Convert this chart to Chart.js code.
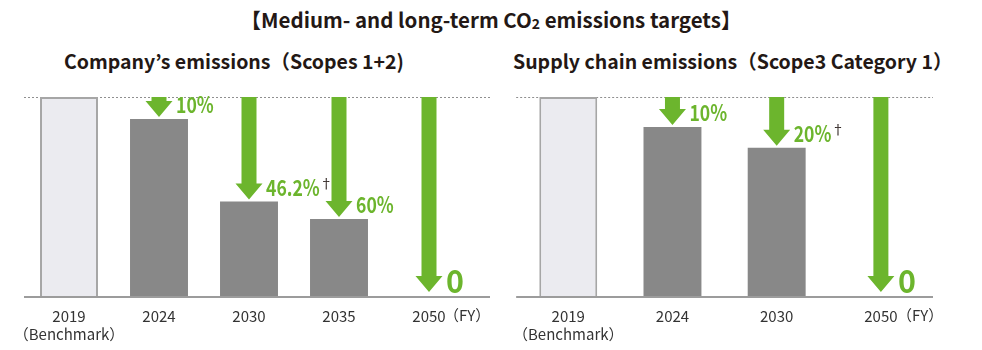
<!DOCTYPE html>
<html>
<head>
<meta charset="utf-8">
<script src="https://cdn.jsdelivr.net/npm/chart.js@4.4.1/dist/chart.umd.min.js"></script>
<style>
  body { margin: 0; background: #fff; font-family: "Noto Sans CJK JP", sans-serif; color: #231815; }
  #wrap { position: relative; width: 982px; height: 350px; overflow: hidden; }
  .title { position: absolute; white-space: nowrap; font-weight: 700; line-height: 1; }
  #mainTitle { left: 0; width: 982px; top: 9px; text-align: center; font-size: 20.5px; }
  #mainTitle sub { font-size: 14px; vertical-align: -1px; font-weight: 700; }
  #leftTitle { left: 64px; top: 51px; font-size: 19.5px; }
  #rightTitle { left: 513px; top: 51px; font-size: 19.5px; }
  .box { position: absolute; top: 80px; height: 270px; }
  #leftBox { left: 0; width: 500px; }
  #rightBox { left: 500px; width: 482px; }
</style>
</head>
<body>
<div id="wrap">
  <div id="mainTitle" class="title">【Medium- and long-term CO<sub>2</sub> emissions targets】</div>
  <div id="leftTitle" class="title">Company’s emissions（Scopes 1+2)</div>
  <div id="rightTitle" class="title">Supply chain emissions（Scope3 Category 1）</div>
  <div id="leftBox" class="box"><canvas id="leftChart"></canvas></div>
  <div id="rightBox" class="box"><canvas id="rightChart"></canvas></div>
</div>
<script>
// Company's emissions (Scopes 1+2), 2019 = 100
const leftYears = [['2019', '（Benchmark）'], '2024', '2030', '2035', '2050'];
const leftValues = [100, 89, 47.7, 39, 0];
const leftTargets = ['', '10%', '46.2%', '60%', '0'];
const leftDagger = [false, false, true, false, false];

// Supply chain emissions (Scope3 Category 1), 2019 = 100
const rightYears = [['2019', '（Benchmark）'], '2024', '2030', '2050'];
const rightValues = [100, 85, 74.6, 0];
const rightTargets = ['', '10%', '20%', '0'];
const rightDagger = [false, false, true, false];

const green = '#6cb52d';
const fontFamily = '"Noto Sans CJK JP", sans-serif';

const targetPlugin = {
    id: 'targets',
    beforeDatasetsDraw(chart, args, opts) {
        const ctx = chart.ctx;
        const area = chart.chartArea;
        const y = Math.round(chart.scales.y.getPixelForValue(100)) + 0.5;
        // dotted benchmark line
        ctx.save();
        ctx.strokeStyle = '#8f8f8f';
        ctx.lineWidth = 1;
        ctx.setLineDash([2, 2]);
        ctx.beginPath();
        ctx.moveTo(area.left, y);
        ctx.lineTo(area.right + opts.extraRight, y);
        ctx.stroke();
        ctx.restore();
    },
    afterDatasetsDraw(chart, args, opts) {
        const ctx = chart.ctx;
        const area = chart.chartArea;
        const xs = chart.scales.x;
        const ys = chart.scales.y;
        const values = chart.data.datasets[0].data;
        const top = ys.getPixelForValue(100);
        const base = ys.getPixelForValue(0);

        // baseline
        ctx.save();
        ctx.strokeStyle = '#9c9c9c';
        ctx.lineWidth = 2;
        ctx.beginPath();
        ctx.moveTo(area.left, base);
        ctx.lineTo(area.right + opts.extraRight, base);
        ctx.stroke();

        // arrows first, then the labels on top
        const tips = values.map(v => v === 0 ? base - 5 : ys.getPixelForValue(v) - 2);
        opts.targets.forEach((label, i) => {
            if (!label) return;
            const cx = xs.getPixelForValue(i);
            const tip = tips[i];
            const shaft = 7.5, head = 13.5, headH = 16;
            ctx.fillStyle = green;
            ctx.beginPath();
            ctx.moveTo(cx - shaft, top);
            ctx.lineTo(cx + shaft, top);
            ctx.lineTo(cx + shaft, tip - headH);
            ctx.lineTo(cx + head, tip - headH);
            ctx.lineTo(cx, tip);
            ctx.lineTo(cx - head, tip - headH);
            ctx.lineTo(cx - shaft, tip - headH);
            ctx.closePath();
            ctx.fill();
        });
        opts.targets.forEach((label, i) => {
            if (!label) return;
            const cx = xs.getPixelForValue(i);
            const tip = tips[i];
            const isZero = values[i] === 0;
            const sx = isZero ? 0.95 : 0.8; // the original face is narrower
            ctx.fillStyle = green;
            ctx.font = 'bold ' + (isZero ? 32 : 22) + 'px ' + fontFamily;
            ctx.textBaseline = 'alphabetic';
            ctx.textAlign = 'left';
            const tx = cx + 17;
            const ty = isZero ? tip + 1 : tip - 4;
            const w = ctx.measureText(label).width * sx;
            ctx.save();
            ctx.translate(tx, ty);
            ctx.scale(sx, 1);
            ctx.fillText(label, 0, 0);
            ctx.restore();
            if (opts.dagger[i]) {
                ctx.fillStyle = '#231815';
                ctx.font = '13px ' + fontFamily;
                ctx.fillText('†', tx + w, ty - 8);
            }
        });

        // (FY) unit after last tick
        const last = xs.getPixelForValue(values.length - 1);
        ctx.fillStyle = '#333';
        ctx.font = '15px ' + fontFamily;
        ctx.textAlign = 'left';
        ctx.textBaseline = 'middle';
        ctx.fillText('（FY）', last + opts.fyOffset, base + 18);
        ctx.restore();
    }
};

function makeChart(id, years, values, targets, dagger, barPct, padLeft, padRight, extraRight, fyOffset) {
    return new Chart(document.getElementById(id), {
        type: 'bar',
        data: {
            labels: years,
            datasets: [{
                data: values,
                backgroundColor: values.map((v, i) => i === 0 ? '#ebebf0' : '#888888'),
                borderColor: values.map((v, i) => i === 0 ? '#a6a6a6' : '#bdbdbd'),
                borderWidth: values.map((v, i) => i === 0 ? 2 : 0),
                borderSkipped: 'bottom',
                barPercentage: barPct,
                categoryPercentage: 1
            }]
        },
        options: {
            responsive: true,
            maintainAspectRatio: false,
            animation: false,
            events: [],
            layout: { padding: { left: padLeft, right: padRight, top: 17, bottom: 0 } },
            plugins: {
                legend: { display: false },
                tooltip: { enabled: false },
                targets: { targets: targets, dagger: dagger, extraRight: extraRight, fyOffset: fyOffset }
            },
            scales: {
                y: { display: false, min: 0, max: 100 },
                x: {
                    grid: { display: false, drawTicks: false },
                    border: { display: false },
                    afterFit: function(scale) { scale.height = 53; },
                    ticks: {
                        color: '#333',
                        padding: 11,
                        maxRotation: 0,
                        autoSkip: false,
                        font: { family: fontFamily, size: 15, lineHeight: 1.15 }
                    }
                }
            }
        },
        plugins: [targetPlugin]
    });
}

makeChart('leftChart', leftYears, leftValues, leftTargets, leftDagger, 0.644, 24, 26, 16, 15);
makeChart('rightChart', rightYears, rightValues, rightTargets, rightDagger, 0.556, 16, 49, 0, 16);
</script>
</body>
</html>
